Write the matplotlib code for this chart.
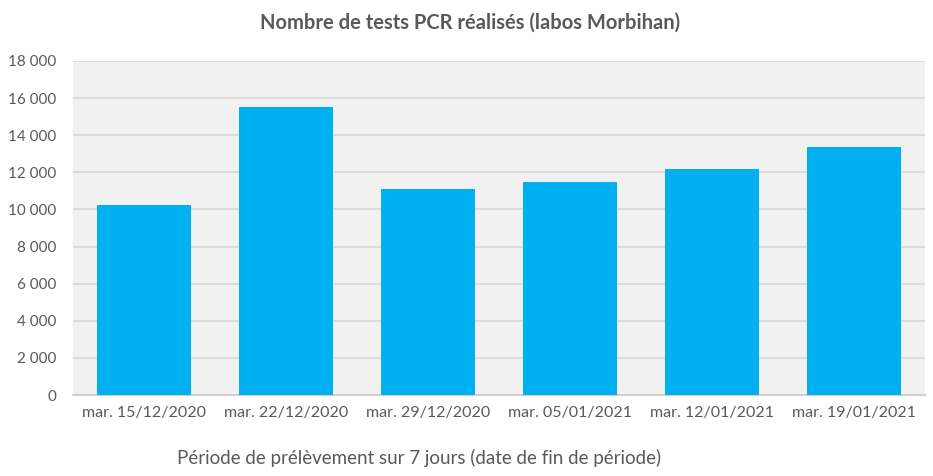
"""Nombre de tests PCR réalisés (labos Morbihan) - bar chart."""

import matplotlib

matplotlib.use("Agg")
import matplotlib.pyplot as plt
from matplotlib.ticker import FuncFormatter, MultipleLocator

periods = [
    "mar. 15/12/2020",
    "mar. 22/12/2020",
    "mar. 29/12/2020",
    "mar. 05/01/2021",
    "mar. 12/01/2021",
    "mar. 19/01/2021",
]
tests = [10230, 15500, 11080, 11480, 12170, 13340]

TEXT = "#595959"
plt.rcParams["font.family"] = ["Lato", "DejaVu Sans"]

fig = plt.figure(figsize=(9.33, 4.76), dpi=100)
ax = fig.add_axes([0.0782, 0.170, 0.9132, 0.702])
ax.set_facecolor("#f1f1f1")

x = range(len(periods))
ax.bar(x, tests, width=0.66, color="#00b0f0", zorder=3)

ax.set_xlim(-0.5, len(periods) - 0.5)
ax.set_ylim(0, 18000)
ax.yaxis.set_major_locator(MultipleLocator(2000))
ax.yaxis.set_major_formatter(FuncFormatter(lambda v, _: f"{int(v):,}".replace(",", " ")))
ax.grid(axis="y", color="#d9d9d9", linewidth=1.3, zorder=1)
ax.set_xticks(list(x))
ax.set_xticklabels(periods)

for s in ("top", "right", "left"):
    ax.spines[s].set_visible(False)
ax.spines["bottom"].set_color("#d0d0d0")
ax.spines["bottom"].set_linewidth(1.5)
ax.tick_params(axis="both", length=0, colors=TEXT)
ax.tick_params(axis="x", pad=8, labelsize=11.5)
ax.tick_params(axis="y", pad=12, labelsize=11)

fig.text(0.504, 0.953, "Nombre de tests PCR réalisés (labos Morbihan)",
         ha="center", va="center", fontsize=14.5, fontweight="bold", color=TEXT)
fig.text(0.449, 0.037, "Période de prélèvement sur 7 jours (date de fin de période)",
         ha="center", va="center", fontsize=13.5, color=TEXT)

fig.savefig("out.png", dpi=100, facecolor="white")
